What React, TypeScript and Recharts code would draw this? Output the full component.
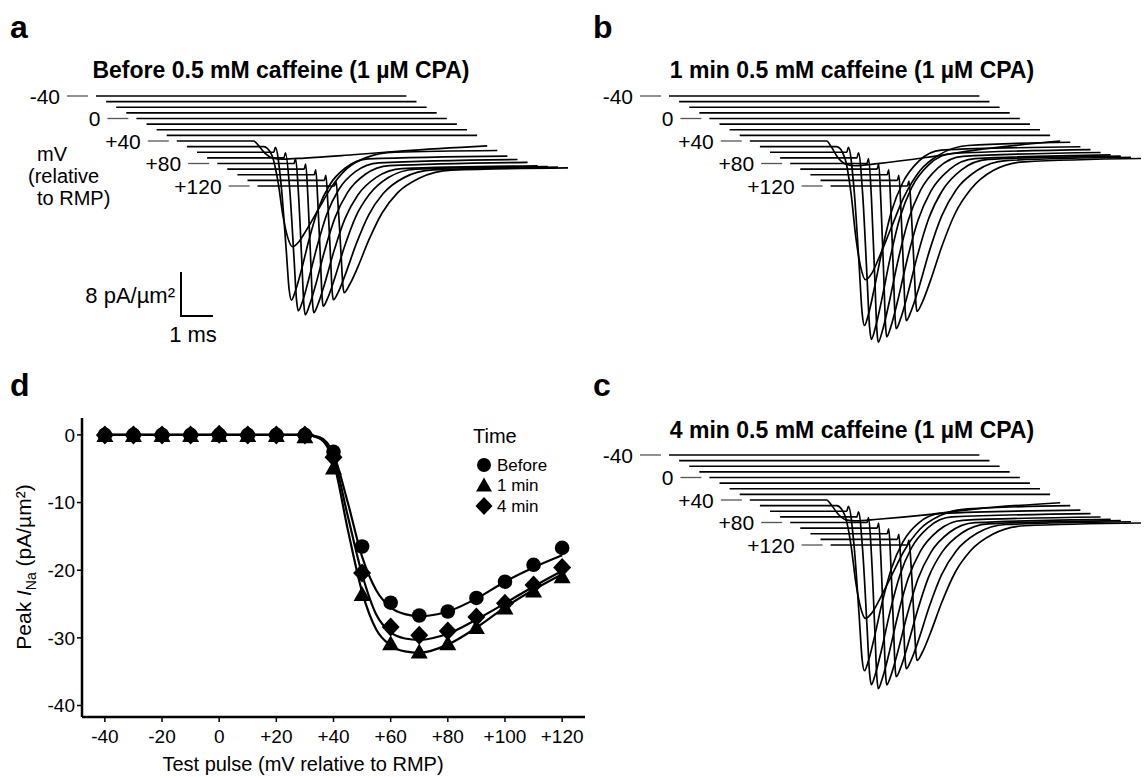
import React from 'react';
import { LineChart, Line, XAxis, YAxis, ComposedChart, Scatter } from 'recharts';

type Pt = [number, number];

// test pulses, mV relative to RMP (one trace each)
const testPulses = [-40, -30, -20, -10, 0, 10, 20, 30, 40, 50, 60, 70, 80, 90, 100, 110, 120];

// traces: [ms from trace start, pA/µm² from baseline]
const flatTrace: Pt[] = [[0, 0], [9.7, 0]];

const tracesBefore: Pt[][] = [
  [[0, 0], [2.4, 0], [2.55, -0.8], [2.75, -2.2], [3.0, -3.1], [3.3, -3.3], [4.0, -3.1], [5.5, -2.5], [7.1, -1.8], [9.7, -0.9]],
  [[0, 0], [2.4, 0], [2.65, -1.5], [2.85, -6.5], [3.0, -12.5], [3.15, -16.5], [3.3, -18.2], [3.5, -17.3], [3.7, -15.5], [4.1, -11.5], [4.5, -7.5], [5.0, -4.0], [5.6, -2.0], [6.5, -1.0], [9.7, -0.7]],
  [[0, 0], [2.4, 0], [2.45, 0.9], [2.62, -5.4], [2.785, -17.5], [2.88, -25.0], [2.95, -26.9], [3.07, -25.3], [3.25, -21.7], [3.5, -15.9], [3.8, -10.1], [4.15, -5.9], [4.65, -2.8], [5.35, -1.2], [9.7, -0.7]],
  [[0, 0], [2.4, 0], [2.45, 0.9], [2.58, -5.6], [2.715, -18.1], [2.796, -25.9], [2.85, -27.8], [2.976, -26.2], [3.165, -22.3], [3.428, -16.3], [3.743, -10.2], [4.11, -5.8], [4.635, -2.5], [5.37, -0.9], [9.7, -0.3]],
  [[0, 0], [2.4, 0], [2.45, 0.9], [2.54, -5.5], [2.645, -17.9], [2.708, -25.6], [2.75, -27.5], [2.882, -25.8], [3.08, -22.0], [3.355, -15.9], [3.685, -9.8], [4.07, -5.3], [4.62, -2.0], [5.39, -0.4], [9.7, 0.2]],
  [[0, 0], [2.4, 0], [2.45, 0.9], [2.52, -5.2], [2.61, -17.0], [2.664, -24.3], [2.7, -26.1], [2.838, -24.5], [3.045, -20.8], [3.333, -14.9], [3.678, -9.0], [4.08, -4.7], [4.655, -1.5], [5.46, 0.1], [9.7, 0.6]],
  [[0, 0], [2.4, 0], [2.45, 0.9], [2.512, -4.8], [2.596, -15.5], [2.646, -22.2], [2.68, -23.9], [2.824, -22.4], [3.04, -18.8], [3.34, -13.2], [3.7, -7.6], [4.12, -3.6], [4.72, -0.5], [5.56, 1.0], [9.7, 1.5]],
  [[0, 0], [2.4, 0], [2.45, 0.9], [2.512, -4.3], [2.596, -14.1], [2.646, -20.2], [2.68, -21.7], [2.836, -20.3], [3.07, -16.9], [3.395, -11.6], [3.785, -6.3], [4.24, -2.4], [4.89, 0.5], [5.8, 1.9], [9.7, 2.4]],
  [[0, 0], [2.4, 0], [2.45, 0.9], [2.52, -3.9], [2.61, -12.6], [2.664, -18.0], [2.7, -19.4], [2.868, -18.0], [3.12, -14.9], [3.47, -9.9], [3.89, -4.9], [4.38, -1.2], [5.08, 1.5], [6.06, 2.9], [9.7, 3.3]],
];

const traces1min: Pt[][] = [
  [[0, 0], [2.4, 0], [2.55, -1.1], [2.75, -3.0], [3.0, -4.2], [3.3, -4.5], [4.0, -4.1], [5.5, -3.0], [7.1, -1.6], [9.7, 0]],
  [[0, 0], [2.4, 0], [2.65, -2.0], [2.85, -8.6], [3.0, -16.6], [3.15, -21.9], [3.3, -24.2], [3.5, -23.0], [3.7, -20.5], [4.1, -14.8], [4.5, -9.2], [5.0, -4.4], [5.6, -1.5], [6.5, 0.2], [9.7, 0.8]],
  [[0, 0], [2.4, 0], [2.45, 0.9], [2.62, -6.3], [2.785, -20.5], [2.88, -29.3], [2.95, -31.5], [3.07, -29.6], [3.25, -25.0], [3.5, -17.9], [3.8, -10.7], [4.15, -5.5], [4.65, -1.6], [5.35, 0.4], [9.7, 1.0]],
  [[0, 0], [2.4, 0], [2.45, 0.9], [2.58, -6.6], [2.715, -21.5], [2.796, -30.7], [2.85, -33.0], [2.976, -30.9], [3.165, -26.1], [3.428, -18.5], [3.743, -10.9], [4.11, -5.4], [4.635, -1.3], [5.37, 0.8], [9.7, 1.5]],
  [[0, 0], [2.4, 0], [2.45, 0.9], [2.54, -6.5], [2.645, -21.1], [2.708, -30.2], [2.75, -32.5], [2.882, -30.4], [3.08, -25.6], [3.355, -18.0], [3.685, -10.4], [4.07, -4.9], [4.62, -0.8], [5.39, 1.3], [9.7, 2.0]],
  [[0, 0], [2.4, 0], [2.45, 0.9], [2.52, -6.1], [2.61, -19.8], [2.664, -28.4], [2.7, -30.5], [2.838, -28.5], [3.045, -23.9], [3.333, -16.6], [3.678, -9.3], [4.08, -4.0], [4.655, -0.1], [5.46, 1.9], [9.7, 2.6]],
  [[0, 0], [2.4, 0], [2.45, 0.9], [2.512, -5.6], [2.596, -18.2], [2.646, -26.0], [2.68, -28.0], [2.824, -26.1], [3.04, -21.7], [3.34, -14.8], [3.7, -7.9], [4.12, -2.9], [4.72, 0.9], [5.56, 2.8], [9.7, 3.4]],
  [[0, 0], [2.4, 0], [2.45, 0.9], [2.512, -5.1], [2.596, -16.6], [2.646, -23.7], [2.68, -25.5], [2.836, -23.7], [3.07, -19.6], [3.395, -13.0], [3.785, -6.5], [4.24, -1.7], [4.89, 1.8], [5.8, 3.6], [9.7, 4.2]],
  [[0, 0], [2.4, 0], [2.45, 0.9], [2.52, -4.6], [2.61, -14.8], [2.664, -21.2], [2.7, -22.8], [2.868, -21.1], [3.12, -17.2], [3.47, -11.1], [3.89, -5.0], [4.38, -0.6], [5.08, 2.8], [6.06, 4.4], [9.7, 5.0]],
];

const traces4min: Pt[][] = [
  [[0, 0], [2.4, 0], [2.55, -0.9], [2.75, -2.5], [3.0, -3.6], [3.3, -3.8], [4.0, -3.5], [5.5, -2.7], [7.1, -1.6], [9.7, -0.5]],
  [[0, 0], [2.4, 0], [2.65, -1.7], [2.85, -7.3], [3.0, -14.1], [3.15, -18.6], [3.3, -20.5], [3.5, -19.5], [3.7, -17.5], [4.1, -12.9], [4.5, -8.3], [5.0, -4.3], [5.6, -1.9], [6.5, -0.6], [9.7, 0]],
  [[0, 0], [2.4, 0], [2.45, 0.9], [2.62, -5.8], [2.785, -18.9], [2.88, -27.0], [2.95, -29.0], [3.07, -27.3], [3.25, -23.2], [3.5, -16.7], [3.8, -10.3], [4.15, -5.6], [4.65, -2.1], [5.35, -0.4], [9.7, 0.2]],
  [[0, 0], [2.4, 0], [2.45, 0.9], [2.58, -6.1], [2.715, -19.8], [2.796, -28.4], [2.85, -30.5], [2.976, -28.6], [3.165, -24.3], [3.428, -17.4], [3.743, -10.6], [4.11, -5.6], [4.635, -1.9], [5.37, 0], [9.7, 0.6]],
  [[0, 0], [2.4, 0], [2.45, 0.9], [2.54, -6.0], [2.645, -19.6], [2.708, -28.1], [2.75, -30.2], [2.882, -28.3], [3.08, -24.0], [3.355, -17.1], [3.685, -10.2], [4.07, -5.2], [4.62, -1.5], [5.39, 0.4], [9.7, 1.0]],
  [[0, 0], [2.4, 0], [2.45, 0.9], [2.52, -5.7], [2.61, -18.5], [2.664, -26.5], [2.7, -28.5], [2.838, -26.7], [3.045, -22.5], [3.333, -15.9], [3.678, -9.2], [4.08, -4.4], [4.655, -0.8], [5.46, 1.0], [9.7, 1.6]],
  [[0, 0], [2.4, 0], [2.45, 0.9], [2.512, -5.2], [2.596, -16.9], [2.646, -24.2], [2.68, -26.0], [2.824, -24.3], [3.04, -20.3], [3.34, -14.1], [3.7, -7.8], [4.12, -3.3], [4.72, 0.1], [5.56, 1.8], [9.7, 2.4]],
  [[0, 0], [2.4, 0], [2.45, 0.9], [2.512, -4.7], [2.596, -15.3], [2.646, -21.9], [2.68, -23.5], [2.836, -21.9], [3.07, -18.2], [3.395, -12.3], [3.785, -6.4], [4.24, -2.1], [4.89, 1.1], [5.8, 2.7], [9.7, 3.2]],
  [[0, 0], [2.4, 0], [2.45, 0.9], [2.52, -4.2], [2.61, -13.7], [2.664, -19.5], [2.7, -21.0], [2.868, -19.5], [3.12, -16.0], [3.47, -10.5], [3.89, -5.0], [4.38, -1.0], [5.08, 2.0], [6.06, 3.5], [9.7, 4.0]],
];

// scale bar: 8 pA/µm², 1 ms
const scaleBarPA = 8;
const scaleBarMs = 1;

// panel d: peak I_Na per test pulse
const pulseX = [-40, -30, -20, -10, 0, 10, 20, 30, 40, 50, 60, 70, 80, 90, 100, 110, 120];
const peakBefore = [0, 0, 0, 0, 0, 0, 0, 0, -2.5, -16.5, -24.8, -26.7, -26.1, -24.1, -21.7, -19.2, -16.7];
const peak1min = [0, 0, 0, 0, 0, 0, 0, -0.2, -4.8, -23.5, -30.8, -32.0, -30.8, -28.4, -25.5, -23.0, -20.9];
const peak4min = [0, 0, 0, 0, 0.1, 0, 0, 0, -3.3, -20.4, -28.4, -29.6, -29.0, -26.9, -24.9, -22.2, -19.6];

// fitted curves
const fitX = [-40, 30, 35, 40, 45, 50, 55, 60, 65, 70, 80, 90, 100, 110, 120];
const fitBefore = [0, 0, -0.3, -2.8, -10, -18, -23, -25.5, -26.5, -26.8, -26.1, -24.2, -21.7, -19.6, -17.8];
const fit1min = [0, 0, -0.5, -4, -14, -23.2, -28.8, -31.1, -32, -32.2, -31, -28.5, -25.5, -22.9, -20.6];
const fit4min = [0, 0, -0.4, -3.3, -12, -20.6, -26.6, -29.2, -30.1, -30.3, -29.4, -27.3, -24.9, -22.4, -20.1];

const xTicks = [-40, -20, 0, 20, 40, 60, 80, 100, 120];
const yTicks = [0, -10, -20, -30, -40];

const FONT = '"Liberation Sans", Arial, Helvetica, sans-serif';

// trace panel geometry
const PANEL_W = 573;
const PANEL_H = 370;
const PX_MS = 32;
const PX_PA = 5.5;
const X0 = 96;
const Y0 = 96;
const STEP_X = 10.1;
const STEP_Y = 5.625;

const xDom: [number, number] = [-X0 / PX_MS, (PANEL_W - X0) / PX_MS];
const yDom: [number, number] = [(Y0 - PANEL_H) / PX_PA, Y0 / PX_PA];

const fmtPulse = (v: number) => (v > 0 ? `+${v}` : String(v));

const TracePanel = ({ active, left, top, scale }: { active: Pt[][]; left: number; top: number; scale?: boolean }) => {
  const all = testPulses.map((_, i) => (i < 8 ? flatTrace : active[i - 8]));
  const series = all.map((pts, i) =>
    pts.map(([t, a]) => ({ x: t + (i * STEP_X) / PX_MS, y: a - (i * STEP_Y) / PX_PA }))
  );
  const dashes = testPulses
    .map((v, i) => ({ v, i }))
    .filter((d) => d.i % 4 === 0)
    .map(({ v, i }) => [
      { x: -29 / PX_MS + (i * STEP_X) / PX_MS, y: -(i * STEP_Y) / PX_PA, label: fmtPulse(v) },
      { x: -8 / PX_MS + (i * STEP_X) / PX_MS, y: -(i * STEP_Y) / PX_PA, label: '' },
    ]);
  const sbX = (181 - X0) / PX_MS;
  const sbY = (Y0 - 316) / PX_PA;
  const scaleData = [
    { x: sbX, y: sbY + scaleBarPA },
    { x: sbX, y: sbY },
    { x: sbX + scaleBarMs, y: sbY },
  ];

  return (
    <div style={{ position: 'absolute', left, top, pointerEvents: 'none' }}>
      <LineChart width={PANEL_W} height={PANEL_H} margin={{ top: 0, right: 0, bottom: 0, left: 0 }}>
        <XAxis type="number" dataKey="x" domain={xDom} hide allowDataOverflow />
        <YAxis type="number" domain={yDom} hide allowDataOverflow />
        {dashes.map((d, k) => (
          <Line
            key={`dash${k}`}
            data={d}
            dataKey="y"
            type="linear"
            stroke="#555"
            strokeWidth={1.3}
            isAnimationActive={false}
            activeDot={false}
            dot={(p: any) =>
              p.payload.label ? (
                <text
                  key={`lab${k}-${p.index}`}
                  x={p.cx - 7}
                  y={p.cy}
                  textAnchor="end"
                  dominantBaseline="central"
                  fontSize={21}
                  fontFamily={FONT}
                  fill="#000"
                >
                  {p.payload.label}
                </text>
              ) : (
                <g key={`nolab${k}-${p.index}`} />
              )
            }
          />
        ))}
        {series.map((d, i) => (
          <Line
            key={`tr${i}`}
            data={d}
            dataKey="y"
            type="monotone"
            stroke="#000"
            strokeWidth={1.7}
            dot={false}
            activeDot={false}
            isAnimationActive={false}
          />
        ))}
        {scale && (
          <Line
            data={scaleData}
            dataKey="y"
            type="linear"
            stroke="#000"
            strokeWidth={2}
            dot={false}
            activeDot={false}
            isAnimationActive={false}
          />
        )}
      </LineChart>
    </div>
  );
};

const Circle = (p: any) => <circle cx={p.cx} cy={p.cy} r={7.3} fill="#000" />;
const Triangle = (p: any) => (
  <polygon points={`${p.cx - 8.5},${p.cy + 7} ${p.cx + 8.5},${p.cy + 7} ${p.cx},${p.cy - 8}`} fill="#000" />
);
const Diamond = (p: any) => (
  <polygon points={`${p.cx},${p.cy - 9.5} ${p.cx + 9},${p.cy} ${p.cx},${p.cy + 9.5} ${p.cx - 9},${p.cy}`} fill="#000" />
);

const toPts = (xs: number[], ys: number[]) => xs.map((v, k) => ({ v, i: ys[k] }));

const IVPanel = () => {
  const tickStyle = { fill: '#000', fontSize: 19, fontFamily: FONT };
  return (
    <div style={{ position: 'absolute', left: 0, top: 380, pointerEvents: 'none' }}>
      <ComposedChart width={590} height={397} margin={{ top: 38, right: 5, bottom: 30, left: 32 }}>
        <XAxis
          type="number"
          dataKey="v"
          domain={[-48, 128]}
          ticks={xTicks}
          tickFormatter={fmtPulse}
          allowDataOverflow
          height={30}
          axisLine={{ stroke: '#000', strokeWidth: 2.5 }}
          tickLine={{ stroke: '#000', strokeWidth: 1.5 }}
          tickSize={5}
          tickMargin={8}
          tick={tickStyle}
        />
        <YAxis
          type="number"
          dataKey="i"
          domain={[-41.7, 2.5]}
          ticks={yTicks}
          allowDataOverflow
          width={50}
          axisLine={{ stroke: '#000', strokeWidth: 2.5 }}
          tickLine={{ stroke: '#000', strokeWidth: 1.5 }}
          tickSize={5}
          tick={tickStyle}
        />
        <Line data={toPts(fitX, fitBefore)} dataKey="i" type="monotone" stroke="#000" strokeWidth={2.2} dot={false} activeDot={false} isAnimationActive={false} />
        <Line data={toPts(fitX, fit1min)} dataKey="i" type="monotone" stroke="#000" strokeWidth={2.2} dot={false} activeDot={false} isAnimationActive={false} />
        <Line data={toPts(fitX, fit4min)} dataKey="i" type="monotone" stroke="#000" strokeWidth={2.2} dot={false} activeDot={false} isAnimationActive={false} />
        <Scatter data={toPts(pulseX, peakBefore)} dataKey="i" shape={Circle} isAnimationActive={false} />
        <Scatter data={toPts(pulseX, peak1min)} dataKey="i" shape={Triangle} isAnimationActive={false} />
        <Scatter data={toPts(pulseX, peak4min)} dataKey="i" shape={Diamond} isAnimationActive={false} />
      </ComposedChart>
    </div>
  );
};

const App = () => {
  return (
    <div
      style={{
        position: 'absolute',
        left: 0,
        top: 0,
        width: 1146,
        height: 777,
        background: '#fff',
        overflow: 'hidden',
        fontFamily: FONT,
      }}
    >
      <TracePanel active={tracesBefore} left={0} top={0} scale />
      <TracePanel active={traces1min} left={573} top={0} />
      <TracePanel active={traces4min} left={573} top={359} />
      <IVPanel />
      <svg width={1146} height={777} style={{ position: 'absolute', left: 0, top: 0, pointerEvents: 'none' }} fontFamily={FONT}>
        <g fontWeight="bold" fontSize={32} fill="#000">
          <text x={10} y={38}>a</text>
          <text x={593} y={38}>b</text>
          <text x={10} y={396}>d</text>
          <text x={593} y={396}>c</text>
        </g>
        <g fontWeight="bold" fontSize={23} fill="#000" textAnchor="middle">
          <text x={281} y={78}>Before 0.5 mM caffeine (1 µM CPA)</text>
          <text x={852} y={78}>1 min 0.5 mM caffeine (1 µM CPA)</text>
          <text x={852} y={438}>4 min 0.5 mM caffeine (1 µM CPA)</text>
        </g>
        <g fontSize={20} fill="#000">
          <text x={37} y={161}>mV</text>
          <text x={28} y={183}>(relative</text>
          <text x={37} y={205}>to RMP)</text>
        </g>
        <g fontSize={22} fill="#000">
          <text x={175} y={303} textAnchor="end">8 pA/µm²</text>
          <text x={193} y={342} textAnchor="middle">1 ms</text>
        </g>
        <text x={303} y={771} textAnchor="middle" fontSize={20} fill="#000">
          Test pulse (mV relative to RMP)
        </text>
        <text transform="translate(31,567) rotate(-90)" textAnchor="middle" fontSize={21} fill="#000">
          Peak <tspan fontStyle="italic">I</tspan>
          <tspan fontSize={14} dy={5}>Na</tspan>
          <tspan dy={-5}>{'  (pA/µm²)'}</tspan>
        </text>
        <text x={473} y={443} fontSize={20} fill="#000">Time</text>
        <circle cx={484} cy={465} r={7} fill="#000" />
        <polygon points="476,491.5 492,491.5 484,477.5" fill="#000" />
        <polygon points="484,497 492.5,506 484,515 475.5,506" fill="#000" />
        <g fontSize={17} fill="#000">
          <text x={497} y={471}>Before</text>
          <text x={497} y={491}>1 min</text>
          <text x={497} y={512}>4 min</text>
        </g>
      </svg>
    </div>
  );
};

export default App;
